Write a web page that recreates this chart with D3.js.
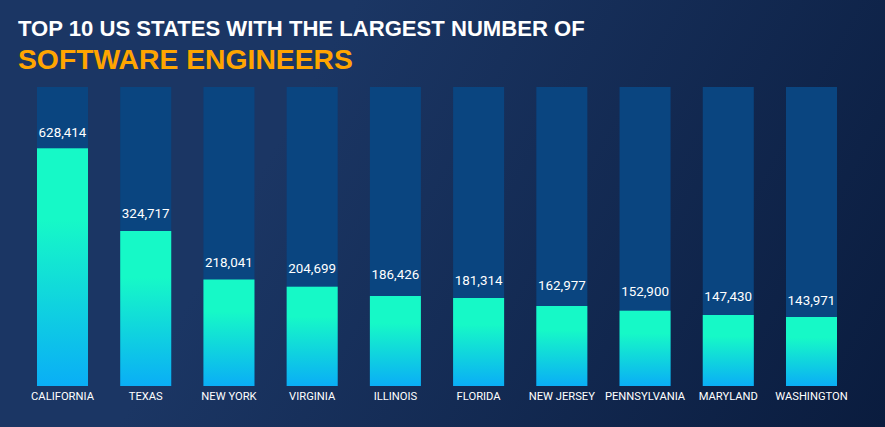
<!DOCTYPE html>
<html>
<head>
<meta charset="utf-8">
<style>
  html, body { margin: 0; padding: 0; background: #0c1f42; overflow: hidden; }
  svg { display: block; }
</style>
</head>
<body>
<div id="chart"></div>
<script src="https://d3js.org/d3.v7.min.js"></script>
<script>
var states = ["CALIFORNIA", "TEXAS", "NEW YORK", "VIRGINIA", "ILLINOIS", "FLORIDA", "NEW JERSEY", "PENNSYLVANIA", "MARYLAND", "WASHINGTON"];
var engineers = [628414, 324717, 218041, 204699, 186426, 181314, 162977, 152900, 147430, 143971];

var width = 885;
var height = 427;

var svg = d3.select("#chart")
    .append("svg")
    .attr("width", width)
    .attr("height", height);

var defs = svg.append("defs");

// page background
var bg = defs.append("linearGradient")
    .attr("id", "bg")
    .attr("gradientUnits", "userSpaceOnUse")
    .attr("x1", 300).attr("y1", 100)
    .attr("x2", 885).attr("y2", 427);
bg.append("stop").attr("offset", "0%").attr("stop-color", "#1b3664");
bg.append("stop").attr("offset", "100%").attr("stop-color", "#0a1c3e");

// bar fill
var barFill = defs.append("linearGradient")
    .attr("id", "barFill")
    .attr("x1", 0).attr("y1", 0)
    .attr("x2", 0).attr("y2", 1);
barFill.append("stop").attr("offset", "30%").attr("stop-color", "#16f9c7");
barFill.append("stop").attr("offset", "100%").attr("stop-color", "#0aaef6");

svg.append("rect")
    .attr("width", width)
    .attr("height", height)
    .attr("fill", "url(#bg)");

// Title
svg.append("text")
    .attr("x", 18)
    .attr("y", 36)
    .attr("font-family", "Liberation Sans")
    .attr("font-weight", "bold")
    .attr("font-size", 22.1)
    .attr("fill", "#ffffff")
    .text("TOP 10 US STATES WITH THE LARGEST NUMBER OF");

svg.append("text")
    .attr("x", 18)
    .attr("y", 69)
    .attr("font-family", "Liberation Sans")
    .attr("font-weight", "bold")
    .attr("font-size", 28.3)
    .attr("fill", "#ffa500")
    .text("SOFTWARE ENGINEERS");

var x = d3.scaleBand()
    .domain(states)
    .range([37, 837])
    .paddingInner(0.387);

// the reference does not draw to one linear scale, California is cut short
var y = d3.scaleLinear()
    .domain([0, 143971, 147430, 152900, 162977, 181314, 186426, 204699, 218041, 324717, 628414])
    .range([386, 317, 315, 310.7, 306, 298, 296, 286.7, 279.5, 231, 148.3]);

// the value labels step down on their own, not at a fixed gap above the bars
var labelY = d3.scaleLinear()
    .domain([143971, 147430, 152900, 162977, 181314, 186426, 204699, 218041, 324717, 628414])
    .range([305.4, 301.4, 296.4, 290.4, 285.4, 279.4, 273.4, 267.4, 218.4, 137.4]);

var xAxis = d3.axisBottom(x).tickSize(0).tickPadding(6);

var axisG = svg.append("g")
    .attr("transform", "translate(0,386)")
    .call(xAxis);
axisG.select(".domain").remove();
axisG.selectAll("text")
    .attr("font-family", "Roboto")
    .attr("font-weight", 400)
    .attr("font-size", 11.2)
    .attr("fill", "#ffffff");

// Background tracks
svg.selectAll(".track")
    .data(states)
    .enter()
    .append("rect")
    .attr("class", "track")
    .attr("x", function(d) { return x(d); })
    .attr("y", 87)
    .attr("width", x.bandwidth())
    .attr("height", 299)
    .attr("fill", "#0a4580");

// Bars
svg.selectAll(".bar")
    .data(engineers)
    .enter()
    .append("rect")
    .attr("class", "bar")
    .attr("x", function(d, i) { return x(states[i]); })
    .attr("y", function(d) { return y(d); })
    .attr("width", x.bandwidth())
    .attr("height", function(d) { return y(0) - y(d); })
    .attr("fill", "url(#barFill)");

// Value labels
svg.selectAll(".value")
    .data(engineers)
    .enter()
    .append("text")
    .attr("class", "value")
    .attr("x", function(d, i) { return x(states[i]) + x.bandwidth() / 2; })
    .attr("y", function(d) { return labelY(d); })
    .attr("text-anchor", "middle")
    .attr("font-family", "Roboto")
    .attr("font-weight", 400)
    .attr("font-size", 13.4)
    .attr("fill", "#ffffff")
    .text(d3.format(","));
</script>
</body>
</html>
